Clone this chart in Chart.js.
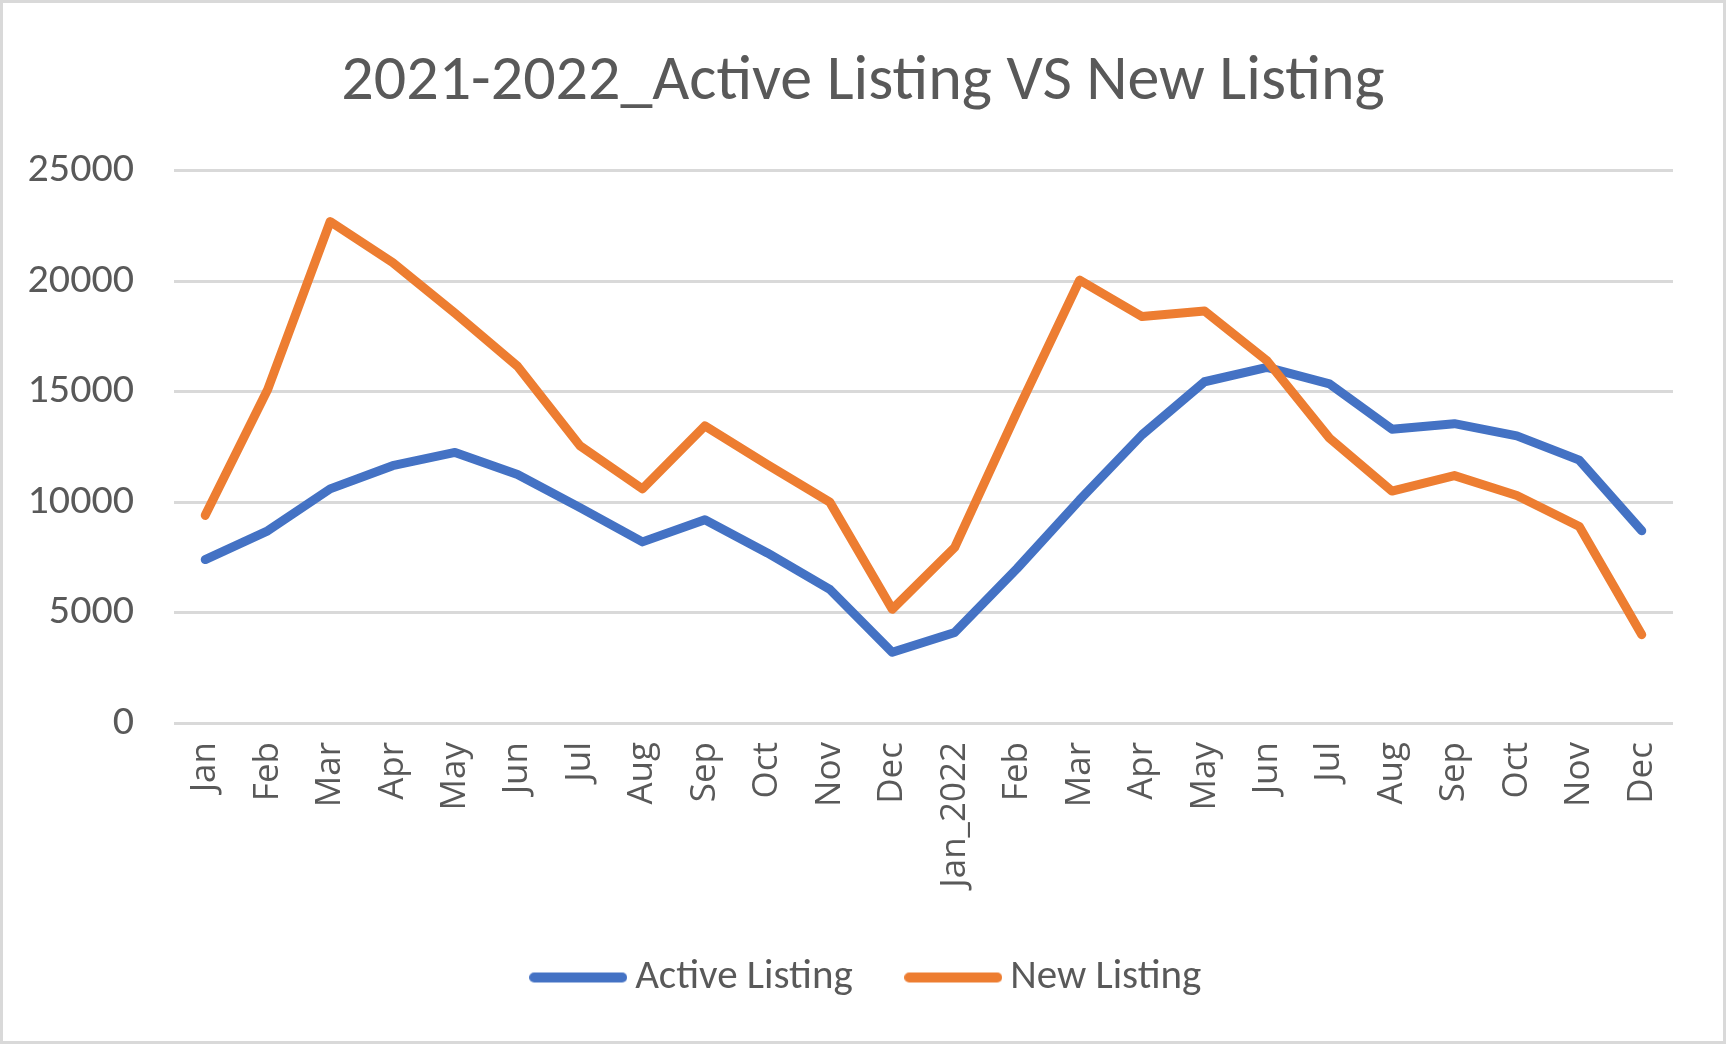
<!DOCTYPE html>
<html>
<head>
<meta charset="utf-8">
<script src="https://cdn.jsdelivr.net/npm/chart.js@4.4.1/dist/chart.umd.min.js"></script>
<style>
  html, body { margin: 0; padding: 0; background: #ffffff; }
  #c { display: block; }
</style>
</head>
<body>
<canvas id="c" width="1726" height="1044"></canvas>
<script>
const categories = ["Jan","Feb","Mar","Apr","May","Jun","Jul","Aug","Sep","Oct","Nov","Dec",
  "Jan_2022","Feb","Mar","Apr","May","Jun","Jul","Aug","Sep","Oct","Nov","Dec"];
const activeListing = [7400, 8700, 10600, 11650, 12250, 11250, 9750, 8200, 9200, 7700, 6050, 3200,
  4100, 7000, 10100, 13050, 15450, 16100, 15350, 13300, 13550, 13000, 11900, 8700];
const newListing = [9400, 15100, 22700, 20850, 18550, 16150, 12550, 10600, 13450, 11700, 10000, 5150,
  7950, 14100, 20050, 18400, 18650, 16400, 12900, 10500, 11200, 10300, 8900, 4000];
const yTicks = [0, 5000, 10000, 15000, 20000, 25000];
const titleText = "2021-2022_Active Listing VS New Listing";
const seriesNames = ["Active Listing", "New Listing"];
const seriesColors = ['#4472C4', '#ED7D31'];

const textColor = "#595959";
const mainFont = "Carlito, 'Liberation Sans Narrow', Lato, sans-serif";

// legend swatch: thick rounded line
function swatch(color) {
  const c = document.createElement('canvas');
  c.width = 98; c.height = 14;
  const g = c.getContext('2d');
  g.strokeStyle = color;
  g.lineWidth = 10;
  g.lineCap = 'round';
  g.beginPath();
  g.moveTo(5, 7);
  g.lineTo(93, 7);
  g.stroke();
  return c;
}

const frame = {
  id: 'frame',
  beforeDraw(chart) {
    const ctx = chart.ctx;
    ctx.save();
    ctx.fillStyle = '#ffffff';
    ctx.fillRect(0, 0, chart.width, chart.height);
    ctx.strokeStyle = '#d9d9d9';
    ctx.lineWidth = 3;
    ctx.strokeRect(1.5, 1.5, chart.width - 3, chart.height - 3);
    ctx.restore();
  }
};

// let rotated x labels extend below the axis box (avoid clipping) and nudge legend
const adjust = {
  id: 'adjust',
  afterLayout(chart) {
    const x = chart.scales.x;
    x.bottom = x.top + 230;
    const lg = chart.legend;
    const dx = 8.5, dy = 2;
    lg.left += dx; lg.right += dx; lg.top += dy; lg.bottom += dy;
  }
};

new Chart(document.getElementById('c'), {
  type: 'line',
  data: {
    labels: categories,
    datasets: [
      {
        label: seriesNames[0],
        data: activeListing,
        borderColor: seriesColors[0],
        backgroundColor: seriesColors[0],
        borderWidth: 9,
        borderCapStyle: 'round',
        borderJoinStyle: 'round',
        pointRadius: 0,
        tension: 0,
        order: 1,
        yAxisID: 'y'
      },
      {
        label: seriesNames[1],
        data: newListing,
        borderColor: seriesColors[1],
        backgroundColor: seriesColors[1],
        borderWidth: 9,
        borderCapStyle: 'round',
        borderJoinStyle: 'round',
        pointRadius: 0,
        tension: 0,
        order: 0,
        yAxisID: 'y'
      }
    ]
  },
  options: {
    responsive: false,
    animation: false,
    devicePixelRatio: 1,
    layout: { padding: { left: 0, right: 0, top: 0, bottom: 38 } },
    plugins: {
      tooltip: { enabled: false },
      title: {
        display: true,
        text: titleText,
        color: textColor,
        font: { family: mainFont, size: 64, weight: 'normal', lineHeight: 1.2 },
        padding: { top: 45, bottom: 49 }
      },
      legend: {
        position: 'bottom',
        labels: {
          usePointStyle: true,
          pointStyleWidth: 73,
          boxHeight: 8,
          padding: 64,
          color: textColor,
          font: { family: mainFont, size: 41 },
          sort: (a, b) => a.datasetIndex - b.datasetIndex,
          generateLabels(chart) {
            const items = Chart.defaults.plugins.legend.labels.generateLabels(chart);
            items.forEach(it => { it.pointStyle = swatch(seriesColors[it.datasetIndex]); });
            return items;
          }
        }
      }
    },
    scales: {
      x: {
        offset: true,
        grid: { display: false },
        border: { display: false },
        ticks: {
          color: textColor,
          font: { family: "'Open Sans', sans-serif", size: 35 },
          minRotation: 90,
          maxRotation: 90,
          autoSkip: false,
          padding: 11
        },
        afterFit(scale) { scale.height = 168; }
      },
      y: {
        min: 0,
        max: 25000,
        afterBuildTicks(scale) { scale.ticks = yTicks.map(v => ({ value: v })); },
        grid: { color: '#d9d9d9', lineWidth: 3, drawTicks: false },
        border: { display: false },
        ticks: {
          color: textColor,
          font: { family: mainFont, size: 42 },
          padding: 40,
          callback: (v) => String(v)
        },
        afterFit(scale) { scale.width = 174; }
      },
      yRight: {
        position: 'right',
        display: true,
        grid: { display: false },
        border: { display: false },
        ticks: { display: false },
        afterFit(scale) { scale.width = 53; }
      }
    }
  },
  plugins: [frame, adjust]
});
</script>
</body>
</html>
